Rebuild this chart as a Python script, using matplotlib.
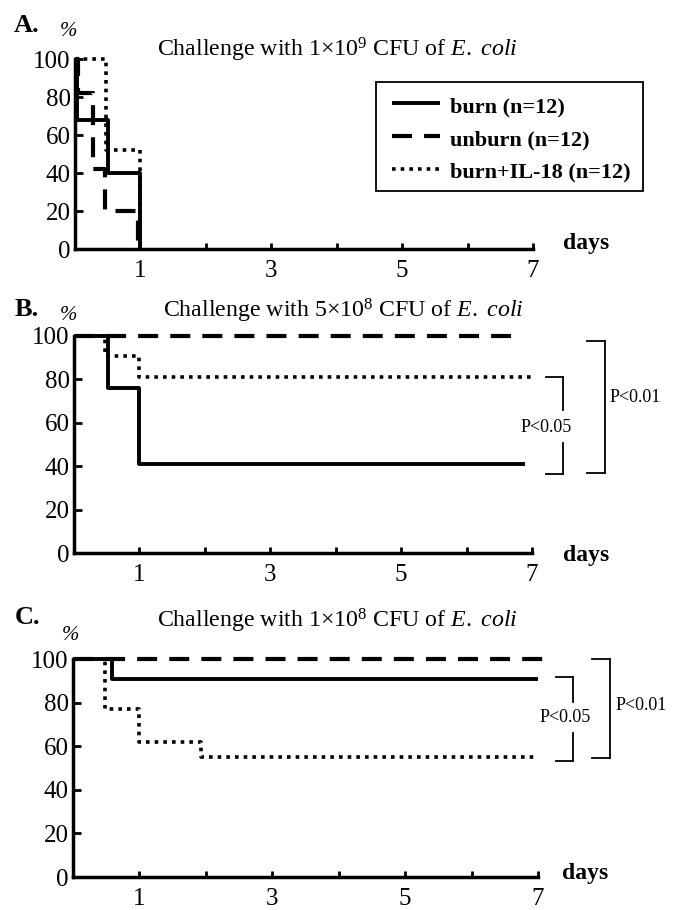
import matplotlib
matplotlib.use("Agg")
import matplotlib.pyplot as plt
from matplotlib.lines import Line2D
from matplotlib.patches import Rectangle

plt.rcParams['font.family'] = ['Liberation Serif', 'DejaVu Serif']
plt.rcParams['mathtext.fontset'] = 'custom'
plt.rcParams['mathtext.rm'] = 'Liberation Serif'
plt.rcParams['mathtext.it'] = 'Liberation Serif:italic'

W, H = 683, 910

# ---------------- data ----------------
series_names = ["burn (n=12)", "unburn (n=12)", "burn+IL-18 (n=12)"]

# Panel A: 1x10^9 CFU
a_burn_t = [0, 0.03, 0.5, 1.0]
a_burn_s = [100, 68, 40, 0]
a_unburn_t = [0, 0.05, 0.28, 0.46, 0.97]
a_unburn_s = [100, 82, 42, 20, 0]
a_il18_t = [0, 0.48, 1.0]
a_il18_s = [100, 52, 0]

# Panel B: 5x10^8 CFU
b_burn_t = [0, 0.52, 1.0, 6.9]
b_burn_s = [100, 76, 41, 41]
b_unburn_t = [0, 6.85]
b_unburn_s = [100, 100]
b_il18_t = [0, 0.47, 1.0, 7.0]
b_il18_s = [100, 91, 81, 81]

# Panel C: 1x10^8 CFU
c_burn_t = [0, 0.58, 7.0]
c_burn_s = [100, 91, 91]
c_unburn_t = [0, 7.1]
c_unburn_s = [100, 100]
c_il18_t = [0, 0.48, 1.0, 1.93, 7.0]
c_il18_s = [100, 77, 62, 55, 55]

x_ticks = [1, 2, 3, 4, 5, 6, 7]
x_ticklabels = ["1", "", "3", "", "5", "", "7"]
y_ticks = [0, 20, 40, 60, 80, 100]

styles = [
    dict(color='black', lw=2.8, linestyle='-', solid_capstyle='butt'),
    dict(color='black', lw=3.0, linestyle=(0, (4.8, 2.9)), dash_capstyle='butt'),
    dict(color='black', lw=2.6, linestyle=(0, (1.0, 1.4)), dash_capstyle='butt'),
]

TITLE_SIZE = 17.2
TICK_SIZE = 18

fig = plt.figure(figsize=(W / 100, H / 100), dpi=100)


def fx(x):
    return x / W


def fy(y):
    return 1 - y / H


def make_axes(l, r, y0, y100):
    ax = fig.add_axes([l / W, 1 - y0 / H, (r - l) / W, (y0 - y100) / H])
    ax.set_xlim(0, 7)
    ax.set_ylim(0, 100)
    for s in ['top', 'right']:
        ax.spines[s].set_visible(False)
    for s in ['left', 'bottom']:
        ax.spines[s].set_linewidth(2.5)
    ax.set_xticks(x_ticks)
    ax.set_xticklabels(x_ticklabels)
    ax.set_yticks(y_ticks)
    ax.tick_params(axis='x', direction='in', length=4, width=2, pad=8, labelsize=TICK_SIZE)
    ax.tick_params(axis='y', direction='in', length=6, width=2, pad=3, labelsize=TICK_SIZE)
    ax.patch.set_alpha(0)
    return ax


def draw(ax, ts, ss):
    for (t, s), st in zip(zip(ts, ss), styles):
        ax.step(t, s, where='post', clip_on=False, **st)


def bracket(x_left, x_right, y_top, y_bot, gap_top, gap_bot):
    kw = dict(color='black', lw=1.3, transform=fig.transFigure)
    fig.add_artist(Line2D([fx(x_left), fx(x_right)], [fy(y_top), fy(y_top)], **kw))
    fig.add_artist(Line2D([fx(x_left), fx(x_right)], [fy(y_bot), fy(y_bot)], **kw))
    if gap_top is None:
        fig.add_artist(Line2D([fx(x_right), fx(x_right)], [fy(y_top), fy(y_bot)], **kw))
    else:
        fig.add_artist(Line2D([fx(x_right), fx(x_right)], [fy(y_top), fy(gap_top)], **kw))
        fig.add_artist(Line2D([fx(x_right), fx(x_right)], [fy(gap_bot), fy(y_bot)], **kw))


def ftext(x, y, s, va='center', **kw):
    return fig.text(fx(x), fy(y), s, va=va, **kw)


# ---------------- Panel A ----------------
axA = make_axes(75, 533, 249, 59)
draw(axA, [a_burn_t, a_unburn_t, a_il18_t], [a_burn_s, a_unburn_s, a_il18_s])

ftext(14, 25, "A.", fontsize=19, fontweight='bold', ha='left')
ftext(60, 32, "%", fontsize=15, style='italic', ha='left')
ftext(157, 50, r"Challenge with 1$\times$10$^9$ CFU of $\mathit{E.\ coli}$", fontsize=TITLE_SIZE, ha='left')
ftext(563, 243, "days", fontsize=17, fontweight='bold', ha='left')

# legend (drawn by hand to match the original box)
leg_left, leg_top, leg_bottom = 376, 82, 191
row_base = [112, 145, 177]
row_line = [103, 136, 169]
texts = []
for name, yb, yl, st in zip(series_names, row_base, row_line, styles):
    fig.add_artist(Line2D([fx(392), fx(440)], [fy(yl), fy(yl)], transform=fig.transFigure, **st))
    texts.append(ftext(450, yb, name, va='baseline', fontsize=16, fontweight='bold', ha='left'))
fig.canvas.draw()
renderer = fig.canvas.get_renderer()
right_px = max(t.get_window_extent(renderer).x1 for t in texts) + 12
fig.add_artist(Rectangle((fx(leg_left), fy(leg_bottom)), (right_px - leg_left) / W,
                         (leg_bottom - leg_top) / H, transform=fig.transFigure,
                         fill=False, edgecolor='black', lw=1.3))

# ---------------- Panel B ----------------
axB = make_axes(74, 532, 553, 336)
draw(axB, [b_burn_t, b_unburn_t, b_il18_t], [b_burn_s, b_unburn_s, b_il18_s])
ftext(15, 309, "B.", fontsize=19, fontweight='bold', ha='left')
ftext(60, 315, "%", fontsize=15, style='italic', ha='left')
ftext(163, 311, r"Challenge with 5$\times$10$^8$ CFU of $\mathit{E.\ coli}$", fontsize=TITLE_SIZE, ha='left')
ftext(563, 556, "days", fontsize=17, fontweight='bold', ha='left')
bracket(546, 563, 377, 474, 410, 443)
ftext(546, 427, "P<0.05", fontsize=13, ha='center')
bracket(587, 605, 341, 473, None, None)
ftext(610, 397, "P<0.01", fontsize=13, ha='left')

# ---------------- Panel C ----------------
axC = make_axes(73, 538, 877, 659)
draw(axC, [c_burn_t, c_unburn_t, c_il18_t], [c_burn_s, c_unburn_s, c_il18_s])
ftext(15, 617, "C.", fontsize=19, fontweight='bold', ha='left')
ftext(62, 636, "%", fontsize=15, style='italic', ha='left')
ftext(157, 621, r"Challenge with 1$\times$10$^8$ CFU of $\mathit{E.\ coli}$", fontsize=TITLE_SIZE, ha='left')
ftext(562, 873, "days", fontsize=17, fontweight='bold', ha='left')
bracket(556, 573, 677, 761, 702, 733)
ftext(565, 717, "P<0.05", fontsize=13, ha='center')
bracket(592, 610, 659, 758, None, None)
ftext(616, 705, "P<0.01", fontsize=13, ha='left')

fig.savefig("out.png", dpi=100)
